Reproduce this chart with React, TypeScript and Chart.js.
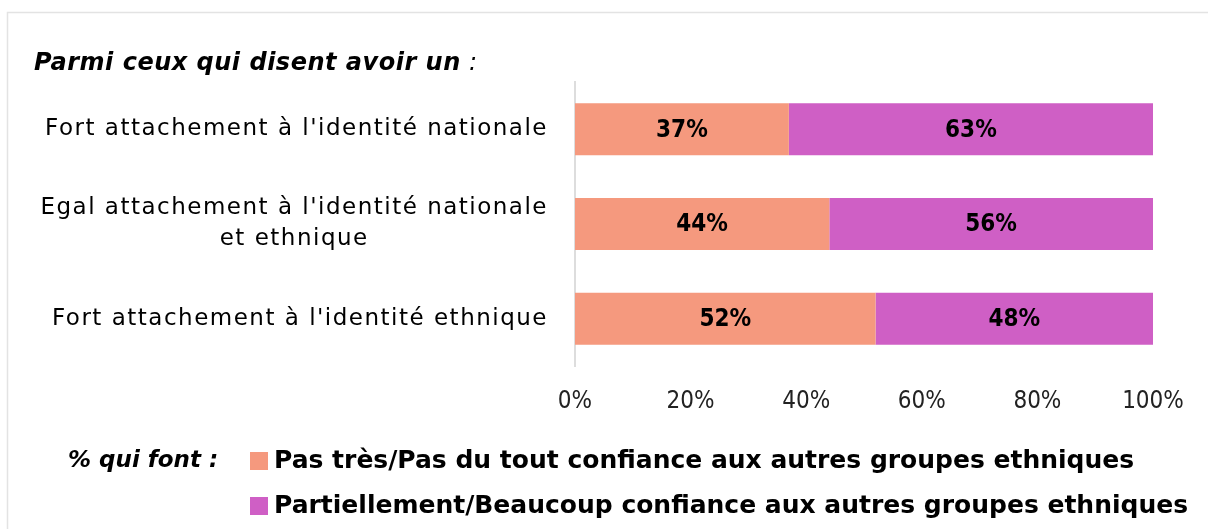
import React, { useEffect, useRef } from "react";
import { Chart, registerables } from "chart.js";

Chart.register(...registerables);

const categories: string[][] = [
  ["Fort attachement à l'identité nationale"],
  ["Egal attachement à l'identité nationale", "et ethnique"],
  ["Fort attachement à l'identité ethnique"],
];
const seriesNames = [
  "Pas très/Pas du tout confiance aux autres groupes ethniques",
  "Partiellement/Beaucoup confiance aux autres groupes ethniques",
];
const lowTrust = [37, 44, 52];
const highTrust = [63, 56, 48];
const xTicks = [0, 20, 40, 60, 80, 100];
const titleBold = "Parmi ceux qui disent avoir un";
const titleTail = " :";
const legendLead = "% qui font :";

const COLORS = ["#F5997E", "#CF5FC5"];
const FONT = "'DejaVu Sans', sans-serif";
const FONT_C = "'DejaVu Sans Condensed', 'DejaVu Sans', sans-serif";

const decorPlugin = {
  id: "decor",
  beforeDraw(chart: any) {
    const ctx = chart.ctx;
    ctx.save();
    ctx.fillStyle = "#ffffff";
    ctx.fillRect(0, 0, chart.width, chart.height);
    ctx.strokeStyle = "#E3E3E3";
    ctx.lineWidth = 1.5;
    ctx.beginPath();
    ctx.moveTo(7.5, chart.height + 2);
    ctx.lineTo(7.5, 12.5);
    ctx.lineTo(chart.width + 2, 12.5);
    ctx.stroke();
    ctx.restore();
  },
  afterDatasetsDraw(chart: any) {
    const ctx = chart.ctx;
    ctx.save();
    ctx.fillStyle = "#000";
    ctx.font = `bold 24px ${FONT_C}`;
    ctx.textAlign = "center";
    ctx.textBaseline = "middle";
    chart.data.datasets.forEach((ds: any, di: number) => {
      const meta = chart.getDatasetMeta(di);
      meta.data.forEach((el: any, i: number) => {
        const cx = (el.x + el.base) / 2;
        ctx.fillText(ds.data[i] + "%", cx, el.y + 1);
      });
    });
    ctx.restore();
  },
  afterDraw(chart: any) {
    const ctx = chart.ctx;
    const yScale = chart.scales.y;
    ctx.save();
    ctx.fillStyle = "#000";
    // title
    ctx.textBaseline = "middle";
    ctx.textAlign = "left";
    (ctx as any).letterSpacing = "0.5px";
    ctx.font = `italic bold 24px ${FONT}`;
    ctx.fillText(titleBold, 34, 64);
    const tw = ctx.measureText(titleBold).width;
    ctx.font = `italic 24px ${FONT}`;
    ctx.fillText(titleTail, 34 + tw, 64);

    // category labels
    (ctx as any).letterSpacing = "1.5px";
    ctx.font = `23px ${FONT}`;
    const rightX = yScale.right - 27;
    const lineH = 31;
    categories.forEach((lines, i) => {
      const y = yScale.getPixelForTick(i);
      const widths = lines.map((l) => ctx.measureText(l).width);
      const wMax = Math.max(...widths);
      const centerX = rightX - wMax / 2;
      ctx.textAlign = "center";
      lines.forEach((l, k) => {
        const ly = y + (k - (lines.length - 1) / 2) * lineH;
        ctx.fillText(l, centerX, ly);
      });
    });

    // legend
    (ctx as any).letterSpacing = "0px";
    ctx.textAlign = "left";
    ctx.font = `italic bold 23px ${FONT}`;
    ctx.fillText(legendLead, 68, 461);
    const rows = [461, 506];
    ctx.font = `bold 25px ${FONT}`;
    chart.data.datasets.forEach((ds: any, di: number) => {
      const y = rows[di];
      ctx.fillStyle = ds.backgroundColor;
      ctx.fillRect(250, y - 9, 18, 18);
      ctx.fillStyle = "#000";
      ctx.fillText(ds.label, 274, y);
    });
    ctx.restore();
  },
};

export default function App() {
  const ref = useRef<HTMLCanvasElement>(null);
  useEffect(() => {
    if (!ref.current) return;
    const chart = new Chart(ref.current, {
      type: "bar",
      data: {
        labels: categories.map((c) => c.join(" ")),
        datasets: [
          { label: seriesNames[0], data: lowTrust, backgroundColor: COLORS[0] },
          { label: seriesNames[1], data: highTrust, backgroundColor: COLORS[1] },
        ],
      },
      options: {
        indexAxis: "y",
        animation: false,
        responsive: false,
        maintainAspectRatio: false,
        layout: { padding: { left: 0, right: 55, top: 82, bottom: 113 } },
        datasets: { bar: { categoryPercentage: 0.55, barPercentage: 1 } },
        plugins: { legend: { display: false }, tooltip: { enabled: false }, title: { display: false } },
        scales: {
          x: {
            stacked: true,
            min: 0,
            max: 100,
            afterBuildTicks: (s: any) => {
              s.ticks = xTicks.map((v) => ({ value: v }));
            },
            afterFit: (s: any) => {
              s.height = 50;
            },
            grid: { display: false, drawTicks: false },
            border: { display: false },
            ticks: {
              padding: 21,
              color: "#222",
              font: { family: FONT_C, size: 24 },
              callback: (v: any) => v + "%",
            },
          },
          y: {
            stacked: true,
            afterFit: (s: any) => {
              s.width = 575;
            },
            grid: { display: false, drawTicks: false },
            border: { display: true, color: "#DDDDDD", width: 2 },
            ticks: { display: false },
          },
        },
      },
      plugins: [decorPlugin],
    } as any);
    return () => chart.destroy();
  }, []);
  return (
    <div style={{ position: "absolute", left: 0, top: 0, width: 1208, height: 529 }}>
      <canvas ref={ref} width={1208} height={529} style={{ width: 1208, height: 529, display: "block" }} />
    </div>
  );
}
